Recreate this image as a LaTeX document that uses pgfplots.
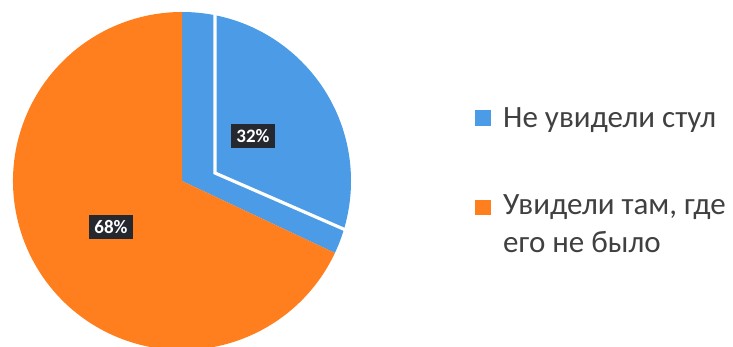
\documentclass[border=0pt]{standalone}
\usepackage{pgfplots}
\pgfplotsset{compat=1.18}
\usepackage{fontspec}
\setmainfont{Carlito}
\definecolor{cBlue}{RGB}{76,155,230}
\definecolor{cOrange}{RGB}{255,127,30}
\definecolor{cBox}{RGB}{38,40,48}
\definecolor{cText}{RGB}{64,64,64}
\begin{document}
\begin{tikzpicture}
% data: percentages
\def\vA{32}
\def\vB{68}
\pgfmathsetmacro{\aEnd}{90-3.6*\vA}
\pgfmathsetmacro{\bEnd}{90-3.6*(\vA+\vB)}
\begin{axis}[
  at={(0pt,0pt)}, anchor=south west,
  x=1pt, y=1pt, scale only axis,
  width=733pt, height=347pt,
  xmin=0, xmax=733, ymin=0, ymax=347,
  hide axis, clip=true,
]
\fill[cBlue] (axis cs:182,166) -- ++(90:169pt) arc[start angle=90, end angle=\aEnd, radius=169pt] -- cycle;
\fill[cOrange] (axis cs:182,166) -- ++(\aEnd:169pt) arc[start angle=\aEnd, end angle=\bEnd, radius=169pt] -- cycle;
\draw[white, line width=3.2pt] (axis cs:215,350) -- (axis cs:215,174) -- (axis cs:348,116);
\node[fill=cBox, text=white, font=\bfseries\fontsize{19}{22}\selectfont, inner xsep=5pt, inner ysep=5pt] at (axis cs:253,211) {\vA\%};
\node[fill=cBox, text=white, font=\bfseries\fontsize{19}{22}\selectfont, inner xsep=5pt, inner ysep=5pt] at (axis cs:111,120) {\vB\%};
% legend
\fill[cBlue] (axis cs:475,221) rectangle (axis cs:491,237);
\fill[cOrange] (axis cs:475,132) rectangle (axis cs:491,147);
\node[anchor=base west, text=cText, font=\fontsize{31}{38}\selectfont, inner sep=0pt] at (axis cs:503,219) {Не увидели стул};
\node[anchor=base west, text=cText, font=\fontsize{31}{38}\selectfont, inner sep=0pt] at (axis cs:503,132) {Увидели там, где};
\node[anchor=base west, text=cText, font=\fontsize{31}{38}\selectfont, inner sep=0pt] at (axis cs:503,94) {его не было};
\end{axis}
\pgfresetboundingbox
\path (0pt,0pt) rectangle (733pt,347pt);
\end{tikzpicture}
\end{document}
